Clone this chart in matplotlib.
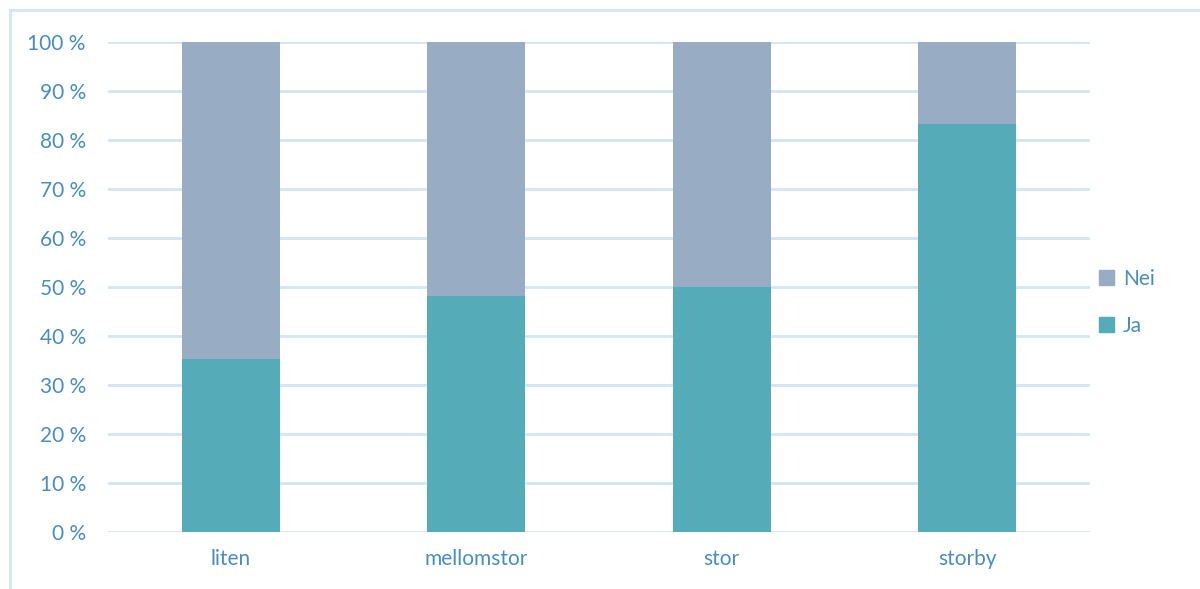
import matplotlib.pyplot as plt
from matplotlib.lines import Line2D
from matplotlib.patches import Patch
from matplotlib.ticker import FuncFormatter

# andel per kommunestørrelse
kategorier = ["liten", "mellomstor", "stor", "storby"]
ja = [35.3, 48.1, 50.0, 83.3]
nei = [64.7, 51.9, 50.0, 16.7]

ja_farge = "#55acb8"
nei_farge = "#98adc4"
tekst_farge = "#4a8dbd"
grid_farge = "#d3e6f3"

plt.rcParams["font.family"] = ["Lato", "DejaVu Sans"]

fig = plt.figure(figsize=(12, 5.89), dpi=100)
ax = fig.add_axes([0.09, 0.0968, 0.8183, 0.8319])

x = range(len(kategorier))
ax.bar(x, [v / 100 for v in ja], width=0.4, color=ja_farge, zorder=3)
ax.bar(x, [v / 100 for v in nei], width=0.4, bottom=[v / 100 for v in ja],
       color=nei_farge, zorder=3)

ax.set_xlim(-0.5, 3.5)
ax.set_ylim(0, 1)
ax.set_yticks([i / 10 for i in range(11)])
ax.yaxis.set_major_formatter(FuncFormatter(lambda v, p: "%d %%" % round(v * 100)))
ax.set_xticks(list(x))
ax.set_xticklabels(kategorier)

ax.grid(axis="y", color=grid_farge, linewidth=2, zorder=0)
for s in ax.spines.values():
    s.set_visible(False)
ax.tick_params(axis="both", length=0, labelsize=15, labelcolor=tekst_farge)
ax.tick_params(axis="y", pad=16)
ax.tick_params(axis="x", pad=12)

# ramme rundt diagramområdet
fig.add_artist(Line2D([10 / 1200, 10 / 1200], [0, 1 - 10 / 589],
                      color=grid_farge, linewidth=2, transform=fig.transFigure))
fig.add_artist(Line2D([10 / 1200, 1], [1 - 10 / 589, 1 - 10 / 589],
                      color=grid_farge, linewidth=2, transform=fig.transFigure))

handles = [Patch(color=nei_farge, label="Nei"), Patch(color=ja_farge, label="Ja")]
leg = fig.legend(handles=handles, loc="center left", bbox_to_anchor=(0.9, 0.487),
                 frameon=False, fontsize=15, handlelength=0.75, handleheight=0.75,
                 handletextpad=0.4, labelspacing=1.3)
for t in leg.get_texts():
    t.set_color(tekst_farge)

fig.savefig("out.png", dpi=100)
